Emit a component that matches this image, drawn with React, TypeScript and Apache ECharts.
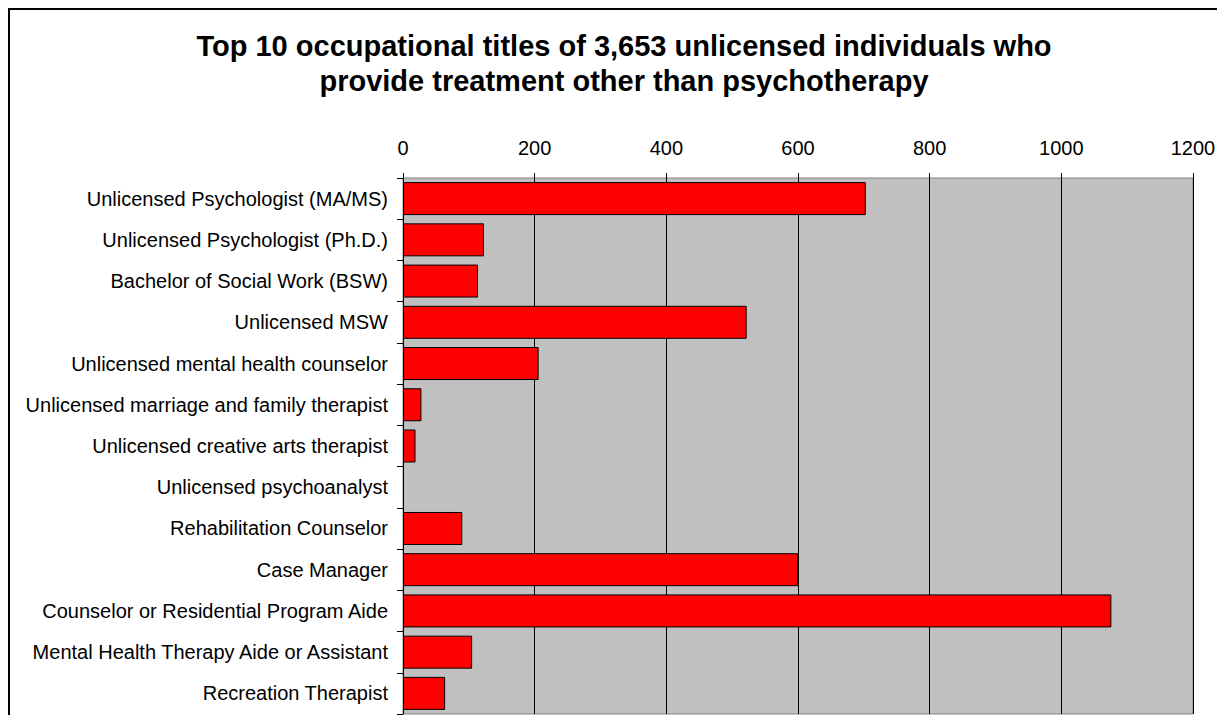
import React, { useEffect, useRef } from "react";
import * as echarts from "echarts";

const titleLines = [
  "Top 10 occupational titles of 3,653 unlicensed individuals who",
  "provide treatment other than psychotherapy",
];

const categories = [
  "Unlicensed Psychologist (MA/MS)",
  "Unlicensed Psychologist (Ph.D.)",
  "Bachelor of Social Work (BSW)",
  "Unlicensed MSW",
  "Unlicensed mental health counselor",
  "Unlicensed marriage and family therapist",
  "Unlicensed creative arts therapist",
  "Unlicensed psychoanalyst",
  "Rehabilitation Counselor",
  "Case Manager",
  "Counselor or Residential Program Aide",
  "Mental Health Therapy Aide or Assistant",
  "Recreation Therapist",
];

const values = [703, 123, 114, 522, 206, 28, 19, 0, 90, 600, 1076, 105, 64];

const axisMin = 0;
const axisMax = 1200;
const axisStep = 200;

const FONT = "'Liberation Sans', Arial, Helvetica, sans-serif";

export default function App() {
  const ref = useRef<HTMLDivElement>(null);

  useEffect(() => {
    if (!ref.current) return;
    const chart = echarts.init(ref.current, null, { renderer: "svg" });
    chart.setOption({
      animation: false,
      backgroundColor: "#ffffff",
      graphic: [
        {
          type: "rect",
          silent: true,
          z: 100,
          shape: { x: 1, y: 1, width: 3000, height: 3000 },
          style: { fill: "none", stroke: "#000000", lineWidth: 2 },
        },
      ],
      title: {
        text: titleLines.join("\n"),
        left: 616,
        top: 20,
        padding: 0,
        textAlign: "center",
        textStyle: {
          fontFamily: FONT,
          fontSize: 29,
          fontWeight: "bold",
          color: "#000000",
          lineHeight: 35,
        },
      },
      grid: {
        left: 395,
        top: 170,
        width: 790,
        height: 536,
        show: true,
        backgroundColor: "#C0C0C0",
        borderColor: "#808080",
        borderWidth: 1,
        containLabel: false,
      },
      xAxis: {
        type: "value",
        position: "top",
        min: axisMin,
        max: axisMax,
        interval: axisStep,
        axisLine: { show: false },
        axisTick: {
          show: true,
          length: 5,
          inside: false,
          lineStyle: { color: "#000000", width: 1 },
        },
        axisLabel: {
          show: true,
          margin: 20,
          fontFamily: FONT,
          fontSize: 20,
          color: "#000000",
          formatter: (v: number) => String(v),
        },
        splitLine: {
          show: true,
          lineStyle: { color: "#000000", width: 1 },
        },
      },
      yAxis: {
        type: "category",
        inverse: true,
        data: categories,
        axisLine: {
          show: true,
          lineStyle: { color: "#000000", width: 1 },
        },
        axisTick: {
          show: true,
          length: 6,
          inside: false,
          lineStyle: { color: "#000000", width: 1 },
        },
        axisLabel: {
          margin: 15,
          fontFamily: FONT,
          fontSize: 20,
          color: "#000000",
        },
        splitLine: { show: false },
      },
      series: [
        {
          type: "bar",
          data: values.map((v) =>
            v === 0 ? { value: v, itemStyle: { borderWidth: 0 } } : v
          ),
          barCategoryGap: "20%",
          itemStyle: {
            color: "#FF0000",
            borderColor: "#000000",
            borderWidth: 1,
          },
          silent: true,
        },
      ],
    });
    return () => chart.dispose();
  }, []);

  return <div ref={ref} style={{ width: 1217, height: 707 }} />;
}
